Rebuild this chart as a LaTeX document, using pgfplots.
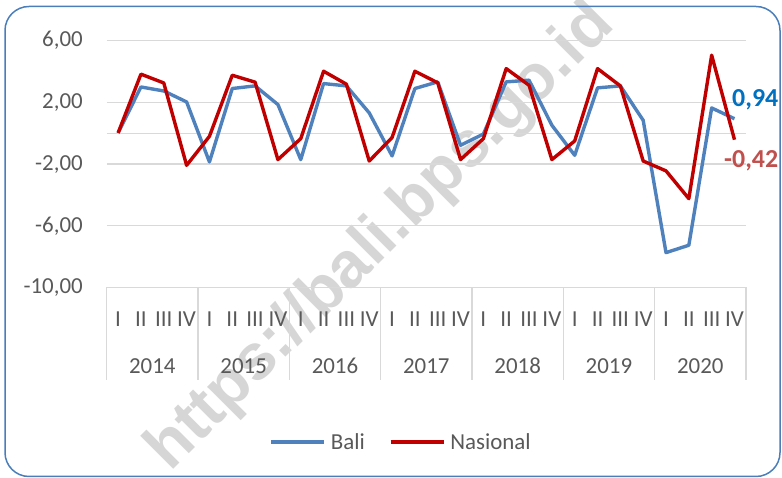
\documentclass[border=0pt]{standalone}
\usepackage{fontspec}
\setmainfont{Carlito}
\newfontfamily\wmfam{Liberation Sans}
\usepackage{pgfplots}
\usepackage{pgfplotstable}
\pgfplotsset{compat=1.18}
\definecolor{baliblue}{HTML}{4F81BD}
\definecolor{nasred}{HTML}{C00000}
\definecolor{txtgray}{HTML}{595959}
\definecolor{gridgray}{HTML}{D9D9D9}
\definecolor{framecol}{HTML}{4A7EBB}
\definecolor{wmgray}{HTML}{D6D6D6}
\definecolor{lblblue}{HTML}{0070C0}
\definecolor{lblred}{HTML}{C0504D}
\newcommand{\lbl}{\fontsize{23}{27}\selectfont}
\newcommand{\lblb}{\fontsize{26}{30}\selectfont\bfseries}

% quarterly growth, 2014 Q1 .. 2020 Q4
\pgfplotstableread{
q  bali   nasional
0   0.02   0.02
1   3.00   3.83
2   2.74   3.26
3   2.03  -2.08
4  -1.86  -0.20
5   2.90   3.76
6   3.07   3.31
7   1.86  -1.71
8  -1.71  -0.35
9   3.22   4.02
10  3.07   3.18
11  1.32  -1.80
12 -1.47  -0.28
13  2.90   4.02
14  3.33   3.27
15 -0.78  -1.71
16 -0.05  -0.35
17  3.33   4.19
18  3.44   3.11
19  0.52  -1.71
20 -1.43  -0.50
21  2.94   4.19
22  3.07   3.07
23  0.84  -1.80
24 -7.74  -2.44
25 -7.26  -4.24
26  1.64   5.06
27  0.94  -0.42
}\growth

\begin{document}
\begin{tikzpicture}[x=1bp,y=1bp]
\path[use as bounding box] (0,0) rectangle (782,478);
\node[rotate=45, anchor=base, text=wmgray, font=\wmfam\bfseries\fontsize{64.7}{72}\selectfont]
  at (393,228) {https://bali.bps.go.id};
\draw[framecol, line width=1.5bp, rounded corners=24bp] (5,1.5) rectangle (780,471.5);
\begin{axis}[
  at={(106.7bp,190.5bp)}, anchor=south west,
  scale only axis, width=639.2bp, height=246.8bp,
  xmin=-0.5, xmax=27.5, ymin=-10, ymax=6,
  axis line style={draw=none},
  major tick length=0pt,
  clip=false,
  ytick={-10,-6,-2,2,6},
  yticklabels={{-10,00},{-6,00},{-2,00},{2,00},{6,00}},
  ymajorgrids,
  major grid style={gridgray, line width=1.3bp},
  extra y ticks={0}, extra y tick labels={},
  extra y tick style={grid=major},
  xtick={0,...,27},
  xticklabels={I,II,III,IV,I,II,III,IV,I,II,III,IV,I,II,III,IV,I,II,III,IV,I,II,III,IV,I,II,III,IV},
  xticklabel style={anchor=base, inner sep=0pt, yshift=-39.2bp, font=\lbl, text=txtgray},
  yticklabel style={anchor=east, inner sep=0pt, xshift=-23.7bp, font=\lbl, text=txtgray},
  legend columns=2,
  legend image code/.code={\draw[#1] (0bp,0bp) -- (53bp,0bp);},
  legend style={at={(0.459,-0.626)}, anchor=center, draw=none, fill=none,
    inner sep=0pt, font=\lbl, text=txtgray, column sep=5bp,
    nodes={inner sep=0pt},
    /tikz/every even column/.append style={column sep=24bp}},
]
\addplot[baliblue, line width=3.4bp, line join=round, mark=none] table[x=q, y=bali] {\growth};
\addlegendentry{Bali}
\addplot[nasred, line width=3.4bp, line join=round, mark=none] table[x=q, y=nasional] {\growth};
\addlegendentry{Nasional}

\pgfplotsinvokeforeach{-0.5,3.5,7.5,11.5,15.5,19.5,23.5,27.5}{
  \draw[gridgray, line width=1.3bp] (axis cs:#1,-10) -- ([yshift=-92.5bp]axis cs:#1,-10);
}
\node[anchor=base, font=\lbl, text=txtgray, yshift=-85.8bp] at (axis cs:1.5,-10) {2014};
\node[anchor=base, font=\lbl, text=txtgray, yshift=-85.8bp] at (axis cs:5.5,-10) {2015};
\node[anchor=base, font=\lbl, text=txtgray, yshift=-85.8bp] at (axis cs:9.5,-10) {2016};
\node[anchor=base, font=\lbl, text=txtgray, yshift=-85.8bp] at (axis cs:13.5,-10) {2017};
\node[anchor=base, font=\lbl, text=txtgray, yshift=-85.8bp] at (axis cs:17.5,-10) {2018};
\node[anchor=base, font=\lbl, text=txtgray, yshift=-85.8bp] at (axis cs:21.5,-10) {2019};
\node[anchor=base, font=\lbl, text=txtgray, yshift=-85.8bp] at (axis cs:25.5,-10) {2020};

\node[anchor=base west, inner sep=0pt, font=\lblb, text=lblblue, xshift=-2.5bp, yshift=12.5bp] at (axis cs:27,0.94) {0,94};
\node[anchor=base west, inner sep=0pt, font=\lblb, text=lblred, xshift=-10.5bp, yshift=-27.8bp] at (axis cs:27,-0.42) {-0,42};
\end{axis}
\end{tikzpicture}
\end{document}
